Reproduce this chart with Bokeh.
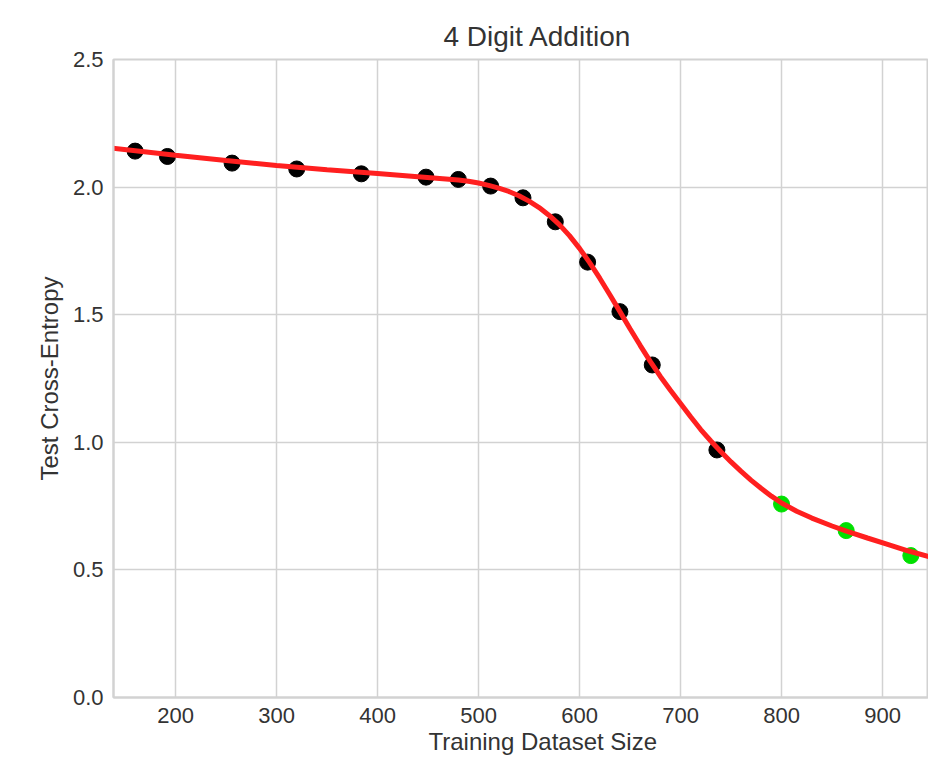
from bokeh.plotting import figure
from bokeh.models import Range1d, Title, FixedTicker, PrintfTickFormatter
from bokeh.embed import file_html
from bokeh.resources import INLINE

# Measured test loss per training-set size
train_size = [160, 192, 256, 320, 384, 448, 480, 512, 544, 576, 608, 640, 672, 736]
train_loss = [2.141, 2.12, 2.094, 2.071, 2.052, 2.039, 2.03, 2.004, 1.958, 1.864, 1.706, 1.512, 1.303, 0.97]

# Larger sizes, shown in green
extra_size = [800, 864, 928]
extra_loss = [0.758, 0.654, 0.556]

# Fitted curve
fit_size = [138, 200, 250, 300, 350, 400, 440, 480, 490, 500, 510, 520, 530, 540,
            550, 560, 570, 580, 590, 600, 610, 620, 630, 640, 650, 660, 670, 680,
            690, 700, 710, 720, 730, 740, 750, 760, 770, 780, 790, 800, 815, 830,
            850, 865, 885, 905, 925, 946]
fit_loss = [2.152, 2.125, 2.104, 2.085, 2.068, 2.053, 2.041, 2.028, 2.023, 2.016,
            2.007, 1.996, 1.983, 1.966, 1.945, 1.92, 1.889, 1.853, 1.81, 1.76,
            1.704, 1.643, 1.578, 1.512, 1.445, 1.38, 1.317, 1.258, 1.204, 1.152,
            1.1, 1.05, 1.005, 0.963, 0.923, 0.886, 0.851, 0.819, 0.789, 0.762,
            0.73, 0.703, 0.672, 0.651, 0.625, 0.6, 0.575, 0.552]

x_ticks = [200, 300, 400, 500, 600, 700, 800, 900]
y_ticks = [0.0, 0.5, 1.0, 1.5, 2.0, 2.5]

FONT = "Liberation Sans"
TEXT = "#333333"
GRID = "#d2d2d2"

p = figure(width=928, height=758, output_backend="svg", toolbar_location=None,
           x_range=Range1d(138.6, 945.5), y_range=Range1d(0, 2.5),
           min_border_left=113, min_border_right=0, min_border_top=59, min_border_bottom=61,
           background_fill_color="white", border_fill_color="white")

p.outline_line_color = GRID
p.outline_line_width = 2

# Title placed from the frame's left edge (the frame runs past the right edge)
p.title.text = "4 Digit Addition"
p.title.align = "left"
p.title.offset = 330
p.title.text_font = FONT
p.title.text_font_size = "28px"
p.title.text_font_style = "normal"
p.title.text_color = TEXT
p.title.standoff = 15

p.xaxis.ticker = FixedTicker(ticks=x_ticks)
p.yaxis.ticker = FixedTicker(ticks=y_ticks)
p.yaxis.formatter = PrintfTickFormatter(format="%.1f")

for ax in (p.xaxis, p.yaxis):
    ax.axis_line_color = GRID
    ax.axis_line_width = 2
    ax.major_tick_line_color = None
    ax.minor_tick_line_color = None
    ax.major_tick_in = 0
    ax.major_tick_out = 0
    ax.major_label_text_font = FONT
    ax.major_label_text_font_size = "22px"
    ax.major_label_text_color = TEXT
    ax.major_label_standoff = 10
    ax.axis_label_text_font = FONT
    ax.axis_label_text_font_size = "24px"
    ax.axis_label_text_font_style = "normal"
    ax.axis_label_text_color = TEXT

p.yaxis.axis_label = "Test Cross-Entropy"
p.yaxis.axis_label_standoff = 7

# x-axis caption as a below-panel title, aligned under the main title
p.add_layout(Title(text="Training Dataset Size", align="left", offset=315,
                   text_font=FONT, text_font_size="24px", text_font_style="normal",
                   text_color=TEXT, standoff=0), "below")

p.xgrid.grid_line_color = GRID
p.ygrid.grid_line_color = GRID
p.xgrid.grid_line_width = 1.5
p.ygrid.grid_line_width = 1.5

# Points, with the fitted curve drawn over them
p.scatter(train_size, train_loss, size=16, color="black")
p.scatter(extra_size, extra_loss, size=16, color="#00e000")
p.line(fit_size, fit_loss, line_width=5, line_color="#ff1f1f")

open("out.html", "w").write(file_html(p, INLINE))
